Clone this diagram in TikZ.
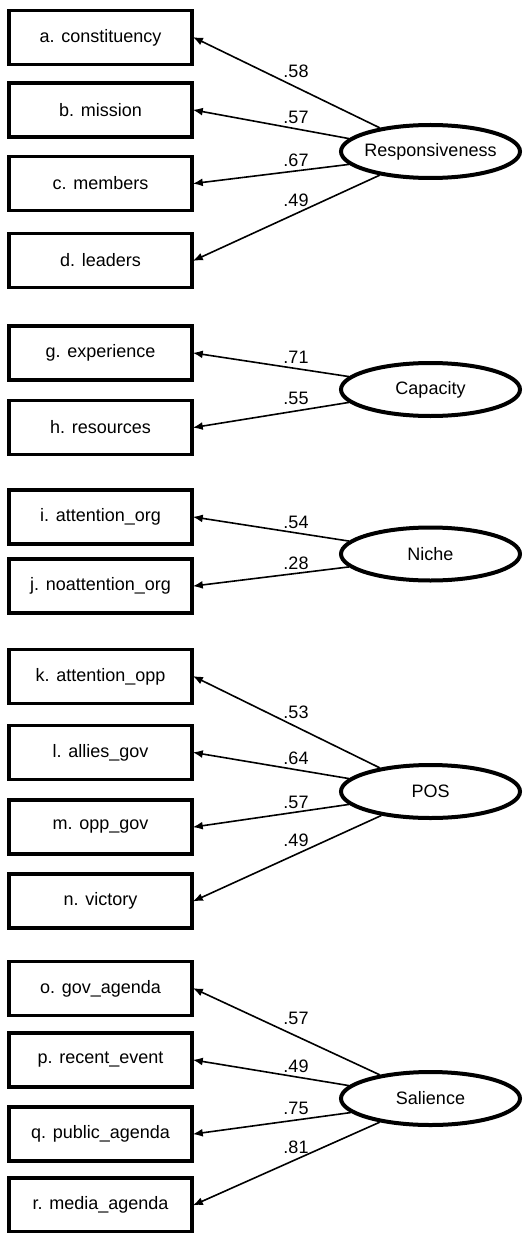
\documentclass[tikz,border=0pt]{standalone}
\usepackage{fontspec}
\setmainfont{Liberation Sans}
\usetikzlibrary{arrows.meta,shapes.geometric}
\begin{document}
\begin{tikzpicture}[x=1pt,y=-1pt,
  font=\fontsize{18}{21}\selectfont,
  obs/.style={draw,line width=3.5pt,minimum width=183pt,minimum height=54pt,inner sep=0pt},
  lat/.style={draw,ellipse,line width=4pt,minimum width=179pt,minimum height=53pt,inner sep=0pt},
  load/.style={-{Latex[length=10pt,width=8pt]},line width=1.6pt,shorten >=-1pt},
  coef/.style={inner sep=0pt}]
\useasboundingbox (0,0) rectangle (526,1233);
% observed
\node[obs] (a) at (100.5,37.5) {a. constituency};
\node[obs] (b) at (100.5,110) {b. mission};
\node[obs] (c) at (100.5,183.5) {c. members};
\node[obs] (d) at (100.5,260.5) {d. leaders};
\node[obs] (g) at (100.5,353) {g. experience};
\node[obs] (h) at (100.5,427.5) {h. resources};
\node[obs] (i) at (100.5,517) {i. attention\_org};
\node[obs] (j) at (100.5,586) {j. noattention\_org};
\node[obs] (k) at (100.5,676.5) {k. attention\_opp};
\node[obs] (l) at (100.5,752.5) {l. allies\_gov};
\node[obs] (m) at (100.5,827) {m. opp\_gov};
\node[obs] (n) at (100.5,901) {n. victory};
\node[obs] (o) at (100.5,988.5) {o. gov\_agenda};
\node[obs] (p) at (100.5,1060) {p. recent\_event};
\node[obs] (q) at (100.5,1134) {q. public\_agenda};
\node[obs] (r) at (100.5,1205) {r. media\_agenda};
% latent
\node[lat] (R) at (430.5,151.5) {\makebox[0pt]{Responsiveness}};
\node[lat] (C) at (430.5,389.5) {\makebox[0pt]{Capacity}};
\node[lat] (N) at (430.5,554) {\makebox[0pt]{Niche}};
\node[lat] (P) at (430.5,791.5) {\makebox[0pt]{POS}};
\node[lat] (S) at (430.5,1098.5) {\makebox[0pt]{Salience}};
% loadings
\draw[load] (R.155) -- (a.east);
\draw[load] (R.171) -- (b.east);
\draw[load] (R.189) -- (c.east);
\draw[load] (R.205) -- (d.east);
\draw[load] (C.171) -- (g.east);
\draw[load] (C.189) -- (h.east);
\draw[load] (N.171) -- (i.east);
\draw[load] (N.189) -- (j.east);
\draw[load] (P.155) -- (k.east);
\draw[load] (P.171) -- (l.east);
\draw[load] (P.189) -- (m.east);
\draw[load] (P.206) -- (n.east);
\draw[load] (S.155) -- (o.east);
\draw[load] (S.171) -- (p.east);
\draw[load] (S.190) -- (q.east);
\draw[load] (S.205) -- (r.east);
% coefficients
\node[coef] (ca) at (296,71) {.58};
\node[coef] (cb) at (296,117) {.57};
\node[coef] (cc) at (296,160) {.67};
\node[coef] (cd) at (296,200) {.49};
\node[coef] (cg) at (296,357) {.71};
\node[coef] (ch) at (296,398) {.55};
\node[coef] (ci) at (296,522) {.54};
\node[coef] (cj) at (296,563) {.28};
\node[coef] (ck) at (296,712) {.53};
\node[coef] (cl) at (296,758) {.64};
\node[coef] (cm) at (296,802) {.57};
\node[coef] (cn) at (296,840) {.49};
\node[coef] (co) at (296,1018) {.57};
\node[coef] (cp) at (296,1066) {.49};
\node[coef] (cq) at (296,1108) {.75};
\node[coef] (cr) at (296,1147) {.81};
\end{tikzpicture}
\end{document}
